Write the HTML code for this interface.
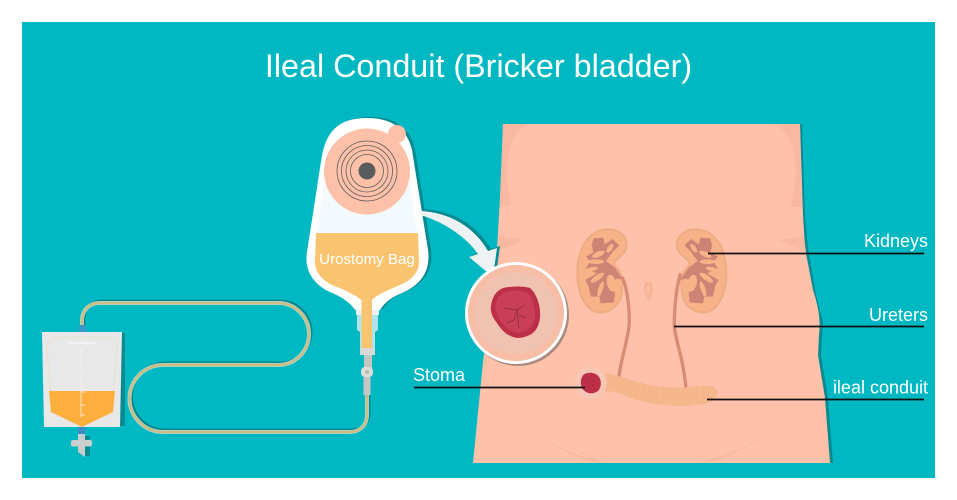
<!DOCTYPE html>
<html><head><meta charset="utf-8"><style>
html,body{margin:0;padding:0;background:#fff;width:957px;height:500px;overflow:hidden}
svg{display:block}
text{font-family:"Liberation Sans",sans-serif;fill:#fff}
</style></head><body>
<svg width="957" height="500" viewBox="0 0 957 500" xmlns="http://www.w3.org/2000/svg">
<defs>
<g id="kid">
<path d="M140 40C175 38 203 60 203 90C203 125 165 130 165 150C190 165 192 200 188 235C182 275 150 297 115 295C85 290 65 265 55 225C42 175 50 120 70 85C85 58 110 42 140 40Z" fill="#eeac83"/>
<path d="M140 45C170 44 197 63 197 90C197 120 158 128 158 150C183 167 187 200 183 233C177 270 148 291 116 289C90 285 71 260 61 222C49 175 56 122 75 88C90 63 113 47 140 45Z" fill="#f6b388"/>
<path d="M100 70L130 68L134 88L158 72L178 92L160 108L150 122L138 138L165 158L190 195L170 190L158 210L165 232L162 262L122 265L118 245L92 245L86 215L76 195L110 175L78 160L90 140L78 125L100 112L95 92Z" fill="#cd8474"/>
<ellipse cx="115" cy="118" rx="20" ry="8" transform="rotate(-25 115 118)" fill="#f6b388"/>
<ellipse cx="108" cy="140" rx="24" ry="7" fill="#f6b388"/>
<ellipse cx="96" cy="162" rx="18" ry="6" transform="rotate(-12 96 162)" fill="#f6b388"/>
<ellipse cx="112" cy="188" rx="24" ry="8" transform="rotate(-35 112 188)" fill="#f6b388"/>
<ellipse cx="155" cy="205" rx="14" ry="26" transform="rotate(-15 155 205)" fill="#f6b388"/>
<ellipse cx="122" cy="222" rx="7" ry="24" transform="rotate(18 122 222)" fill="#f6b388"/>
<ellipse cx="150" cy="100" rx="7" ry="15" transform="rotate(35 150 100)" fill="#f6b388"/>
</g>
</defs>
<rect x="22" y="22" width="913" height="456" fill="#00b8c1"/>
<text x="478.5" y="77" font-size="32.3" text-anchor="middle">Ileal Conduit (Bricker bladder)</text>

<!-- body shadow -->
<path d="M503 124H802L805 215L808 248L816 295L823 322L821 355L828 398L833 463H800V124Z" fill="#078b92"/>
<!-- body -->
<path d="M503 124H800L803 215L805 248L813 290C818 305 821 320 819 335L818 355L825 398L830 463H473L483 362L497 250L500 198Z" fill="#ffc1aa"/>
<!-- shading -->
<path d="M503 124H530C514 130 507 148 507 165C506 185 510 198 512 205L500 205L501 180Z" fill="#f9b9a1"/>
<path d="M800 124H772C788 130 795 148 795 165C796 185 792 198 790 207L802 207L801 180Z" fill="#f9b9a1"/>
<path d="M499 235L524 240L498 251Z" fill="#f9b9a1"/>
<path d="M804 236L778 240L806 252Z" fill="#f9b9a1"/>
<path d="M530 428C550 445 578 456 604 463H596C570 455 545 442 530 428Z" fill="#f9b9a1"/>
<path d="M566 443C578 450 592 458 604 463H598Z" fill="#f9b9a1"/>
<path d="M772 428C752 445 725 456 699 463H707C735 455 757 442 772 428Z" fill="#f9b9a1"/>
<path d="M648 282c3-1 5 1 5 6c0 6-2 12-4 12s-5-6-5-12c0-4 1-6 4-6z" fill="#f9b497"/>
<path d="M648 286c2 0 2 1 2 3c0 3-1 6-2 6s-2-3-2-6c0-2 1-3 2-3z" fill="#fbbda3"/>

<g transform="translate(560 215) scale(.33333)">
<use href="#kid"/>
<g transform="translate(551 0) scale(-1 1)"><use href="#kid"/></g>
<path d="M185 185C200 210 208 270 208 320C206 370 185 420 176 490" fill="none" stroke="#d88c74" stroke-width="10"/>
<path d="M362 175C350 210 342 280 343 335C350 390 372 440 378 522" fill="none" stroke="#d88c74" stroke-width="10"/>
<!-- conduit -->
<path d="M115 470C150 476 190 488 240 503C290 516 340 520 380 517C410 512 445 510 462 516C478 526 474 552 455 561C430 570 380 574 330 572C280 568 225 558 180 535C160 528 135 528 115 526Z" fill="#f7b78d"/>
<path stroke="#efae85" stroke-width="1.200" fill="none" d="M190 493V535M210 498V545M230 503V552M250 508V558M270 512V562M290 516V566M310 518V569M330 520V570M350 520V572M370 520V572M390 517V572M410 514V570M430 512V567M445 512V562"/>
<circle cx="92" cy="503" r="48" fill="#f8c6b4"/>
<path d="M72 478C85 470 105 472 115 483C125 495 125 515 115 527C105 537 85 538 74 528C60 518 58 490 72 478Z" fill="#bd2f47"/>
<path d="M78 498L95 495L108 505M92 497L88 520M95 505L105 520" fill="none" stroke="#a62a40" stroke-width="1.500"/>
</g>

<!-- leader lines -->
<g stroke="#111" stroke-width="1.800" fill="none">
<path d="M708 253.500H924"/>
<path d="M674 326.500H924"/>
<path d="M707 399.500H924"/>
<path d="M414 387.500H585"/>
</g>
<text x="928" y="247" font-size="18" text-anchor="end">Kidneys</text>
<text x="928" y="321" font-size="18" text-anchor="end">Ureters</text>
<text x="928" y="393.500" font-size="18" text-anchor="end">ileal conduit</text>
<text x="413" y="381" font-size="18">Stoma</text>

<!-- tube shadow and tube -->
<path d="M82 330V320C82 310 90 303 99 303H278A31 31 0 0 1 278 365H163A33.500 33.500 0 0 0 163 432H350C360 432 367 425 367 415V395" fill="none" stroke="#07878f" stroke-width="3" transform="translate(2 -2)"/>
<path d="M82 330V320C82 310 90 303 99 303H278A31 31 0 0 1 278 365H163A33.500 33.500 0 0 0 163 432H350C360 432 367 425 367 415V395" fill="none" stroke="#a9d8cf" stroke-width="4"/>
<path d="M82 330V320C82 310 90 303 99 303H278A31 31 0 0 1 278 365H163A33.500 33.500 0 0 0 163 432H350C360 432 367 425 367 415V395" fill="none" stroke="#cfbc80" stroke-width="2.400"/>

<!-- drainage bag -->
<rect x="46" y="333" width="79" height="93" fill="#078b92"/>
<rect x="79" y="325" width="7" height="8" fill="#3a96c8"/>
<path d="M42 332H122L120 427H44Z" fill="#e8e8e8"/>
<path d="M47 350Q46 338 58 337H106Q118 338 117 350L113 395M51 395L47 350" fill="none" stroke="#eadfd2" stroke-width="1"/>
<path d="M49 391H115L113 412L82 427L51 412Z" fill="#fdaf3d"/>
<path d="M81 347V417M81 350H85M81 360H83M81 371H86M81 382H83M81 392H85M81 405H85M81 415H85" stroke="#f4f1ea" stroke-width=".8"/>
<text x="82" y="344" font-size="3.500" text-anchor="middle">Urine Drainage Bag</text>
<rect x="78" y="427" width="7" height="8" fill="#3a8cc5"/>
<rect x="85" y="436" width="5" height="20" fill="#078b92"/>
<rect x="71" y="440" width="21" height="6.500" rx="2" fill="#c9cfcf"/>
<path d="M78 434H85V457L78 452Z" fill="#c9cfcf"/>

<!-- urostomy bag -->
<path d="M367 118C395 118 408 132 412 150L428 250C431 272 420 285 402 293C392 297 385 302 380 310H355C350 302 340 296 330 292C313 284 304 270 307 252L322 155C327 130 340 118 367 118Z" fill="#078b92" transform="translate(3 -1)"/>
<path d="M367 118C395 118 408 132 412 150L428 250C431 272 420 285 402 293C392 297 385 302 380 310H355C350 302 340 296 330 292C313 284 304 270 307 252L322 155C327 130 340 118 367 118Z" fill="#fff"/>
<path d="M323 185H411L417 233H317Z" fill="#f3fafd"/>
<path d="M356 310H379V315H356Z" fill="#e6f3f2"/>
<path d="M357 315H378V330L375 332V348H360V332L357 330Z" fill="#b0e4ea"/>
<path d="M316 233H418L419 262C419 272 412 280 400 285C385 291 376 296 372 300V348H361.500V300C355 295 345 290 332 285C322 280 315 272 315 262Z" fill="#f9c470"/>
<circle cx="367" cy="171.500" r="43" fill="#fdc0a8"/>
<circle cx="397" cy="134" r="9" fill="#fdc0a8"/>
<g fill="none" stroke="#5e5e5e" stroke-width=".8">
<circle cx="367" cy="171" r="30"/><circle cx="367" cy="171" r="25.500"/><circle cx="367" cy="171" r="21"/><circle cx="367" cy="171" r="16.500"/>
</g>
<circle cx="367" cy="171" r="8.500" fill="#595b5d"/>
<text x="367" y="264" font-size="15.100" text-anchor="middle">Urostomy Bag</text>
<rect x="360" y="348" width="15" height="7" fill="#d9dad7"/>
<rect x="364" y="355" width="8" height="13" fill="#c4c4c0"/>
<rect x="361" y="367" width="12" height="10" rx="4" fill="#dcdcd8"/>
<circle cx="367" cy="372" r="2" fill="#b9b9b4"/>
<rect x="363.500" y="377" width="7" height="18" fill="#c6c6c2"/>

<!-- arrow -->
<path d="M420 211C450 212 475 228 488 251L497 248L493 277L469 257L478 254C467 238 445 222 420 215Z" fill="#078b92" transform="translate(3 -2)"/>
<path d="M420 211C450 212 475 228 488 251L497 248L493 277L469 257L478 254C467 238 445 222 420 215Z" fill="#eef2f3"/>

<!-- zoom circle -->
<circle cx="518" cy="315" r="51" fill="#a88b80"/>
<circle cx="516" cy="313" r="51" fill="#fff"/>
<circle cx="516" cy="313" r="48" fill="#f8bda7"/>
<circle cx="516" cy="313" r="41" fill="#f0c2b2"/>
<path d="M503 288C512 286 524 286 530 288C536 293 541 305 540 317C539 330 532 337 518 338C508 337 502 331 497 323C493 318 490 312 491 306C492 297 496 291 503 288Z" fill="#bd2f46"/>
<path d="M505 292C513 290 523 290 528 293C533 300 536 308 535 316C534 327 527 332 518 333C510 332 504 327 500 320C496 314 495 308 496 303C497 298 500 294 505 292Z" fill="#c93f56"/>
<g fill="none" stroke="#852a38" stroke-width=".7">
<path d="M504 308L517 310L525 305M517 310L514 320L507 323M517 310L519 328M519 315L526 318"/>
</g>
</svg>
</body></html>
